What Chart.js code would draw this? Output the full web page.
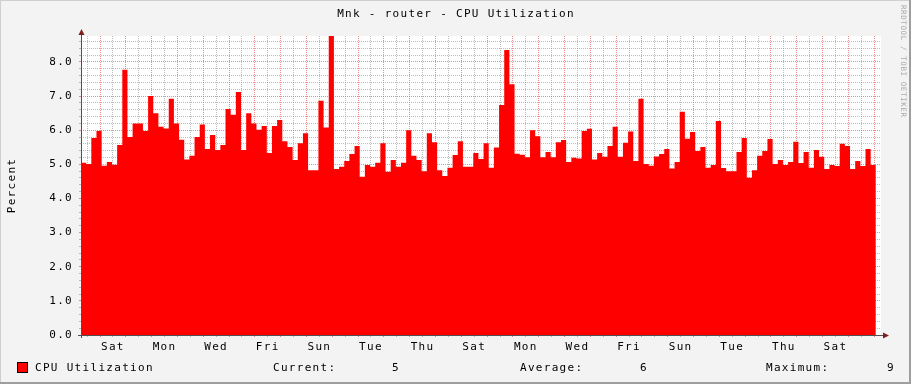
<!DOCTYPE html>
<html><head><meta charset="utf-8">
<script src="https://cdn.jsdelivr.net/npm/chart.js@4/dist/chart.umd.min.js"></script>
<style>html,body{margin:0;padding:0;background:#f3f3f3;}canvas{display:block;}</style>
</head><body>
<canvas id="c" width="911" height="384"></canvas>
<script>
const chartTitle = 'Mnk - router - CPU Utilization';
const seriesName = 'CPU Utilization';
const yAxisTitle = 'Percent';
const watermark = 'RRDTOOL / TOBI OETIKER';
const dayLabels = ['Sat','Mon','Wed','Fri','Sun','Tue','Thu','Sat','Mon','Wed','Fri','Sun','Tue','Thu','Sat'];
const statNames = ['Current:','Average:','Maximum:'];
const statValues = ['5','6','9'];
const cpuValues = [
 5.05,5.01,5.77,5.98,4.96,5.07,4.99,5.57,7.77,5.80,
 6.20,6.20,5.98,7.00,6.50,6.10,6.05,6.92,6.20,5.72,
 5.14,5.25,5.80,6.17,5.45,5.86,5.42,5.57,6.62,6.45,
 7.12,5.42,6.50,6.20,6.01,6.12,5.33,6.12,6.30,5.68,
 5.51,5.13,5.62,5.91,4.83,4.83,6.86,6.08,8.76,4.86,
 4.93,5.10,5.30,5.54,4.64,4.98,4.93,5.05,5.62,4.78,
 5.13,4.93,5.05,6.00,5.25,5.13,4.80,5.91,5.65,4.83,
 4.66,4.90,5.27,5.68,4.93,4.93,5.33,5.16,5.62,4.90,
 5.49,6.74,8.35,7.35,5.31,5.28,5.21,6.00,5.82,5.21,
 5.36,5.21,5.65,5.71,5.07,5.19,5.17,5.98,6.04,5.14,
 5.33,5.22,5.54,6.10,5.22,5.63,5.96,5.10,6.92,5.01,
 4.96,5.23,5.30,5.45,4.88,5.07,6.54,5.75,5.95,5.39,
 5.51,4.90,4.98,6.27,4.89,4.80,4.80,5.36,5.77,4.61,
 4.83,5.25,5.39,5.74,5.01,5.13,4.98,5.07,5.66,5.04,
 5.36,4.90,5.42,5.22,4.86,4.98,4.95,5.60,5.54,4.86,
 5.10,4.95,5.45,4.98
];
const stepHours = 4.8;        // one sample every 4.8 h
const rangeHours = 744;       // 31 days shown
const firstMidnight = 17.67;  // hours from start to first midnight
const yMax = 8.76;

const FONT = 'DejaVu Sans Mono';
const LS = '1.3px';

// build points (step area): each value holds until the next sample
const points = cpuValues.map((v, i) => ({x: i * stepHours, y: v}));
points.push({x: cpuValues.length * stepHours, y: cpuValues[cpuValues.length - 1]});

const xTickValues = [];
for (let t = firstMidnight - 12; t <= rangeHours; t += 12) xTickValues.push(t);

const MINOR = 'rgba(143,143,143,0.6)';
const MAJOR = 'rgba(222,79,79,0.65)';
const AXIS = '#505050';
const ARROW = '#801f1f';

const spacingPlugin = {
  id: 'spacing',
  beforeUpdate(chart) { chart.ctx.letterSpacing = LS; },
  beforeDraw(chart) { chart.ctx.letterSpacing = LS; }
};

const decoPlugin = {
  id: 'deco',
  beforeDraw(chart) {
    const ctx = chart.ctx, a = chart.chartArea;
    ctx.save();
    ctx.fillStyle = '#f3f3f3';
    ctx.fillRect(0, 0, chart.width, chart.height);
    ctx.fillStyle = '#cfcfcf';
    ctx.fillRect(0, 0, chart.width, 1);
    ctx.fillRect(0, 0, 1, chart.height);
    ctx.fillStyle = '#9e9e9e';
    ctx.fillRect(chart.width - 2, 0, 2, chart.height);
    ctx.fillRect(0, chart.height - 2, chart.width, 2);
    ctx.fillStyle = '#ffffff';
    ctx.fillRect(a.left, a.top, a.right - a.left, a.bottom - a.top);
    ctx.restore();
  },
  afterDraw(chart) {
    const ctx = chart.ctx, a = chart.chartArea;
    ctx.save();
    ctx.letterSpacing = LS;
    ctx.fillStyle = '#000';
    ctx.font = '11px "' + FONT + '"';
    ctx.textBaseline = 'middle';
    ctx.textAlign = 'center';
    ctx.fillText(chartTitle, 456, 14);
    ctx.save();
    ctx.translate(12, (a.top + a.bottom) / 2);
    ctx.rotate(-Math.PI / 2);
    ctx.fillText(yAxisTitle, 0, 0);
    ctx.restore();
    ctx.textAlign = 'left';
    ctx.fillStyle = '#ff0000';
    ctx.fillRect(17, 362, 10, 10);
    ctx.strokeStyle = '#000';
    ctx.lineWidth = 1;
    ctx.strokeRect(17.5, 362.5, 10, 10);
    ctx.fillStyle = '#000';
    ctx.fillText(seriesName, 35, 368);
    const nameX = [273, 520, 766];
    const valX = [392, 640, 887];
    for (let i = 0; i < statNames.length; i++) {
      ctx.fillText(statNames[i], nameX[i], 368);
      ctx.fillText(statValues[i], valX[i], 368);
    }
    ctx.save();
    ctx.letterSpacing = '0.6px';
    ctx.font = '7.5px "' + FONT + '"';
    ctx.fillStyle = '#aaaaaa';
    ctx.translate(903, 5);
    ctx.rotate(Math.PI / 2);
    ctx.textAlign = 'left';
    ctx.fillText(watermark, 0, 0);
    ctx.restore();
    ctx.strokeStyle = AXIS;
    ctx.lineWidth = 1;
    ctx.beginPath();
    ctx.moveTo(a.left + 0.5, a.bottom + 3);
    ctx.lineTo(a.left + 0.5, a.top - 2);
    ctx.moveTo(a.left - 3, a.bottom + 0.5);
    ctx.lineTo(a.right + 3, a.bottom + 0.5);
    ctx.stroke();
    ctx.fillStyle = ARROW;
    ctx.beginPath();
    ctx.moveTo(a.left + 0.5, a.top - 7);
    ctx.lineTo(a.left - 2.5, a.top - 1);
    ctx.lineTo(a.left + 3.5, a.top - 1);
    ctx.closePath();
    ctx.fill();
    ctx.beginPath();
    ctx.moveTo(a.right + 8, a.bottom + 0.5);
    ctx.lineTo(a.right + 2, a.bottom - 2.5);
    ctx.lineTo(a.right + 2, a.bottom + 3.5);
    ctx.closePath();
    ctx.fill();
    ctx.restore();
  }
};

Chart.defaults.font.family = FONT;
Chart.defaults.font.size = 11;
Chart.defaults.color = '#000';

new Chart(document.getElementById('c'), {
  type: 'line',
  data: {
    datasets: [{
      label: seriesName,
      data: points,
      stepped: 'before',
      fill: 'origin',
      backgroundColor: '#ff0000',
      borderColor: 'rgba(0,0,0,0)',
      borderWidth: 0,
      pointRadius: 0,
      tension: 0
    }]
  },
  options: {
    responsive: false,
    animation: false,
    devicePixelRatio: 1,
    layout: { autoPadding: false, padding: { left: 0, right: 30, top: 36, bottom: 0 } },
    plugins: { legend: { display: false }, title: { display: false }, tooltip: { enabled: false } },
    scales: {
      x: {
        type: 'linear',
        min: 0,
        max: rangeHours,
        z: 1,
        afterFit(s) { s.height = 49; },
        afterBuildTicks(s) { s.ticks = xTickValues.map(v => ({value: v})); },
        ticks: {
          autoSkip: false,
          maxRotation: 0,
          padding: 4,
          callback(v, i) { return (i % 4 === 2) ? dayLabels[(i - 2) / 4] : ''; }
        },
        grid: {
          color(c) { return c.index % 2 === 1 ? MAJOR : MINOR; },
          tickColor(c) { return c.index % 2 === 1 ? MAJOR : MINOR; },
          tickLength: 2,
          lineWidth: 1
        },
        border: { display: false, dash: [1, 1] }
      },
      y: {
        min: 0,
        max: yMax,
        z: 1,
        afterFit(s) { s.width = 81; },
        ticks: {
          stepSize: 0.2,
          includeBounds: false,
          autoSkip: false,
          padding: 6,
          callback(v) { return Math.abs(v - Math.round(v)) < 1e-6 ? v.toFixed(1) : ''; }
        },
        grid: {
          color(c) {
            const v = c.tick.value;
            if (Math.abs(v) < 1e-6) return 'rgba(0,0,0,0)';
            return Math.abs(v - Math.round(v)) < 1e-6 ? MAJOR : MINOR;
          },
          tickColor(c) {
            const v = c.tick.value;
            return Math.abs(v - Math.round(v)) < 1e-6 ? MAJOR : MINOR;
          },
          tickLength: 2,
          lineWidth: 1
        },
        border: { display: false, dash: [1, 1] }
      }
    }
  },
  plugins: [spacingPlugin, decoPlugin]
});
</script>
</body></html>
